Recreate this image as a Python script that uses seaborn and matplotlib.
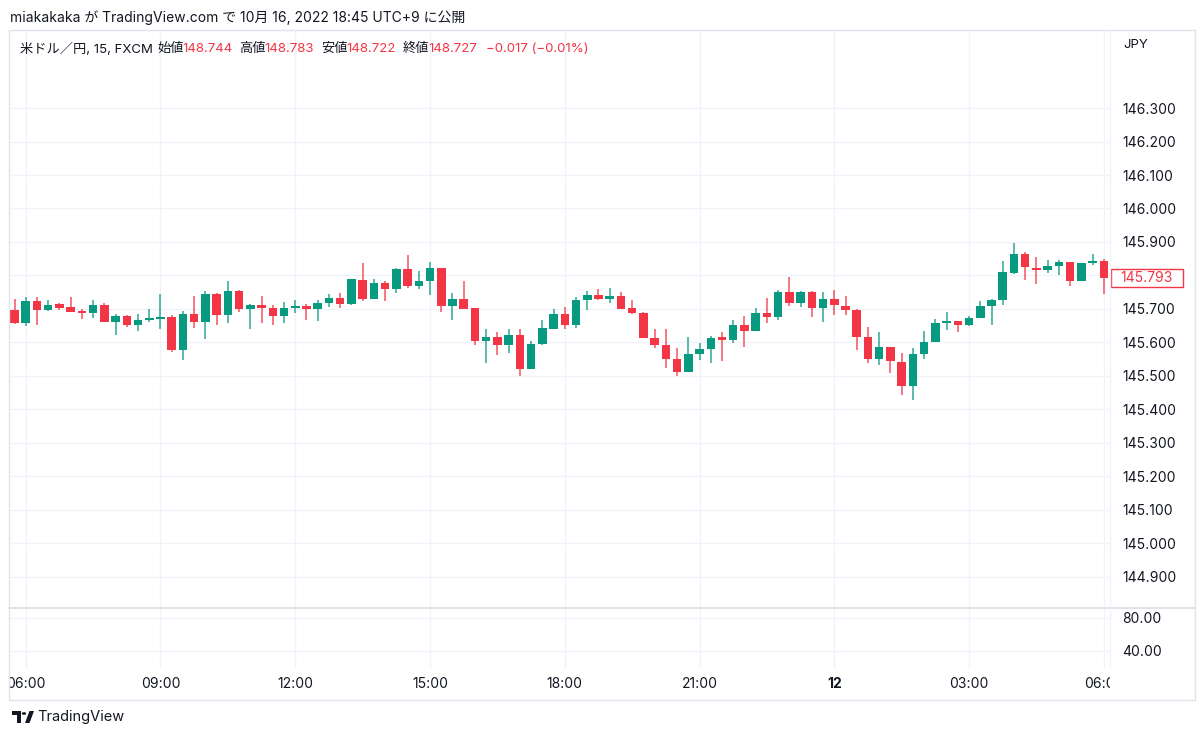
import numpy as np
import pandas as pd
import matplotlib.pyplot as plt
import matplotlib.transforms as mtransforms
from matplotlib.patches import Rectangle, Circle, Polygon
import seaborn as sns

# 15-minute candles, USD/JPY
opens = [145.698, 145.657, 145.725, 145.696, 145.714, 145.706, 145.694, 145.687, 145.713, 145.661,
         145.680, 145.653, 145.666, 145.671, 145.676, 145.578, 145.686, 145.662, 145.746, 145.681,
         145.755, 145.700, 145.713, 145.704, 145.678, 145.703, 145.709, 145.700, 145.717, 145.733,
         145.714, 145.787, 145.730, 145.778, 145.759, 145.819, 145.769, 145.784, 145.821, 145.708,
         145.730, 145.702, 145.605, 145.617, 145.592, 145.622, 145.522, 145.595, 145.641, 145.686,
         145.652, 145.727, 145.742, 145.730, 145.740, 145.702, 145.688, 145.614, 145.593, 145.552,
         145.512, 145.566, 145.580, 145.615, 145.607, 145.652, 145.635, 145.689, 145.675, 145.750,
         145.717, 145.750, 145.704, 145.731, 145.710, 145.698, 145.617, 145.550, 145.585, 145.543,
         145.470, 145.565, 145.600, 145.659, 145.664, 145.653, 145.674, 145.710, 145.726, 145.807,
         145.865, 145.823, 145.817, 145.827, 145.841, 145.782, 145.836, 145.843]
highs = [145.731, 145.736, 145.736, 145.728, 145.719, 145.736, 145.699, 145.726, 145.719, 145.686,
         145.683, 145.684, 145.701, 145.746, 145.683, 145.695, 145.738, 145.755, 145.748, 145.782,
         145.757, 145.716, 145.738, 145.713, 145.722, 145.726, 145.716, 145.726, 145.746, 145.748,
         145.789, 145.837, 145.790, 145.783, 145.821, 145.862, 145.813, 145.839, 145.823, 145.748,
         145.783, 145.704, 145.639, 145.631, 145.639, 145.639, 145.605, 145.668, 145.699, 145.706,
         145.736, 145.755, 145.760, 145.764, 145.750, 145.726, 145.691, 145.639, 145.639, 145.582,
         145.617, 145.597, 145.620, 145.630, 145.668, 145.678, 145.702, 145.733, 145.757, 145.794,
         145.753, 145.753, 145.751, 145.757, 145.738, 145.701, 145.647, 145.631, 145.587, 145.567,
         145.582, 145.634, 145.670, 145.691, 145.664, 145.678, 145.724, 145.731, 145.843, 145.897,
         145.871, 145.854, 145.847, 145.845, 145.841, 145.836, 145.864, 145.849]
lows = [145.656, 145.648, 145.652, 145.693, 145.698, 145.691, 145.669, 145.674, 145.661, 145.623,
        145.646, 145.635, 145.661, 145.640, 145.571, 145.548, 145.642, 145.609, 145.652, 145.658,
        145.691, 145.640, 145.658, 145.651, 145.658, 145.689, 145.666, 145.664, 145.706, 145.702,
        145.712, 145.723, 145.730, 145.725, 145.749, 145.763, 145.760, 145.743, 145.692, 145.668,
        145.701, 145.592, 145.538, 145.562, 145.569, 145.501, 145.522, 145.593, 145.639, 145.640,
        145.644, 145.696, 145.728, 145.718, 145.701, 145.684, 145.614, 145.582, 145.523, 145.501,
        145.512, 145.548, 145.538, 145.546, 145.597, 145.587, 145.633, 145.658, 145.668, 145.710,
        145.706, 145.675, 145.660, 145.681, 145.681, 145.576, 145.538, 145.534, 145.510, 145.442,
        145.428, 145.550, 145.600, 145.637, 145.632, 145.650, 145.674, 145.653, 145.713, 145.803,
        145.785, 145.775, 145.807, 145.802, 145.770, 145.782, 145.830, 145.746]
closes = [145.657, 145.725, 145.696, 145.712, 145.703, 145.691, 145.688, 145.712, 145.661, 145.680,
          145.653, 145.667, 145.672, 145.675, 145.577, 145.686, 145.662, 145.746, 145.681, 145.755,
          145.699, 145.713, 145.703, 145.678, 145.704, 145.709, 145.700, 145.718, 145.733, 145.715,
          145.788, 145.730, 145.778, 145.759, 145.819, 145.769, 145.784, 145.821, 145.708, 145.730,
          145.701, 145.605, 145.617, 145.592, 145.622, 145.522, 145.596, 145.643, 145.686, 145.652,
          145.728, 145.742, 145.729, 145.740, 145.701, 145.687, 145.614, 145.592, 145.552, 145.512,
          145.566, 145.579, 145.614, 145.607, 145.652, 145.635, 145.689, 145.675, 145.750, 145.717,
          145.750, 145.704, 145.731, 145.711, 145.696, 145.617, 145.550, 145.585, 145.544, 145.471,
          145.565, 145.602, 145.659, 145.664, 145.653, 145.674, 145.710, 145.727, 145.809, 145.865,
          145.824, 145.817, 145.827, 145.841, 145.783, 145.836, 145.843, 145.793]
start_time = "2022-10-11 05:45"

price_ticks = [146.3, 146.2, 146.1, 146.0, 145.9, 145.8, 145.7, 145.6, 145.5, 145.4,
               145.3, 145.2, 145.1, 145.0, 144.9]
osc_ticks = [80, 40]

header_text = "miakakaka が TradingView.com で 10月 16, 2022 18:45 UTC+9 に公開"
symbol_text = "米ドル／円, 15, FXCM"
ohlc_names = ["始値", "高値", "安値", "終値"]
ohlc_values = ["148.744", "148.783", "148.722", "148.727"]
change_text = "−0.017 (−0.01%)"
currency = "JPY"

GREEN = "#089981"
RED = "#f23645"
TEXT = "#131722"
GRID = "#f0f3fa"
BORDER = "#e0e3eb"

sns.set_theme(style="white")
plt.rcParams['font.family'] = ['Inter', 'Noto Sans CJK JP', 'DejaVu Sans']

df = pd.DataFrame({
    "time": pd.date_range(start_time, periods=len(opens), freq="15min"),
    "open": opens, "high": highs, "low": lows, "close": closes,
})
df["idx"] = np.arange(len(df))
df["color"] = np.where(df["close"] >= df["open"], GREEN, RED)

# tick positions every 3 hours
grid = df[(df["time"].dt.minute == 0) & (df["time"].dt.hour % 3 == 0)]
grid_labels = [("12" if t.hour == 0 else t.strftime("%H:%M")) for t in grid["time"]]

W, H = 1200, 737


def box(x0, y0, x1, y1):
    return [x0 / W, 1 - y1 / H, (x1 - x0) / W, (y1 - y0) / H]


fig = plt.figure(figsize=(12, 7.37), dpi=100)
fig.patch.set_facecolor("white")

xlim = (-0.49, 97.55)
last = df["close"].iloc[-1]

# price pane
ax = fig.add_axes(box(9, 30, 1110, 607))
ax.vlines(df["idx"], df["low"], df["high"], colors=df["color"], lw=1.1, alpha=0.85, zorder=2)
body = (df["close"] - df["open"]).abs().clip(lower=0.003)
ax.bar(df["idx"], body, bottom=np.minimum(df["open"], df["close"]),
       width=0.76, color=df["color"], linewidth=0, zorder=3)
ax.set_xlim(*xlim)
ax.set_ylim(144.810, 146.533)
ax.set_xticks(grid["idx"])
ax.set_yticks(price_ticks)
# the last-price tag hides the tick label next to it
ax.set_yticklabels(["" if abs(v - last) < 0.03 else f"{v:.3f}" for v in price_ticks])
ax.yaxis.tick_right()
ax.tick_params(axis="y", length=0, pad=9, labelsize=10, labelcolor=TEXT)
ax.tick_params(axis="x", length=0, labelbottom=False)
ax.grid(True, color=GRID, lw=1)
for s in ax.spines.values():
    s.set_visible(False)

# last price label
tr = mtransforms.blended_transform_factory(ax.transAxes, ax.transData)
ax.add_patch(Rectangle((1.001, last - 0.027), 0.065, 0.054, transform=tr,
                       fc="white", ec=RED, lw=1, clip_on=False, zorder=5))
ax.text(1.0335, last, f"{last:.3f}", transform=tr, ha="center", va="center",
        color=RED, fontsize=10, zorder=6, clip_on=False)

# indicator pane (empty)
ax2 = fig.add_axes(box(9, 608, 1110, 668))
ax2.set_xlim(*xlim)
ax2.set_ylim(19.4, 92.1)
ax2.set_xticks(grid["idx"])
ax2.set_yticks(osc_ticks)
ax2.set_yticklabels([f"{v:.2f}" for v in osc_ticks])
ax2.yaxis.tick_right()
ax2.tick_params(axis="y", length=0, pad=9, labelsize=10, labelcolor=TEXT)
ax2.tick_params(axis="x", length=0, labelbottom=False)
ax2.grid(True, color=GRID, lw=1)
for s in ax2.spines.values():
    s.set_visible(False)

# time axis
ax3 = fig.add_axes(box(9, 668, 1110, 700))
ax3.set_xlim(*xlim)
ax3.set_ylim(0, 1)
ax3.axis("off")
for i, lab in zip(grid["idx"], grid_labels):
    ax3.text(i, 0.5, lab, ha="center", va="center", fontsize=10, color=TEXT,
             fontweight="bold" if lab == "12" else "normal", clip_on=True)

# frame lines
fig.add_artist(Rectangle((9 / W, 1 - 700 / H), (1195 - 9) / W, (700 - 30) / H,
                         transform=fig.transFigure, fill=False, ec=BORDER, lw=1))
fig.add_artist(plt.Line2D([9 / W, 1195 / W], [1 - 608 / H] * 2, color="#dadde5", lw=1.2))
fig.add_artist(plt.Line2D([1110 / W] * 2, [1 - 30 / H, 1 - 668 / H], color=GRID, lw=1))

# header texts
fig.text(10 / W, 1 - 18 / H, header_text, fontsize=10, color=TEXT, va="center")
fig.text(20 / W, 1 - 49 / H, symbol_text, fontsize=9.5, color=TEXT, va="center")
name_x = [157, 239, 321, 403]
for nx, name, val in zip(name_x, ohlc_names, ohlc_values):
    fig.text(nx / W, 1 - 49 / H, name, fontsize=9.5, color=TEXT, va="center")
    fig.text((nx + 25) / W, 1 - 49 / H, val, fontsize=9.5, color=RED, va="center")
fig.text(486 / W, 1 - 49 / H, change_text, fontsize=9.5, color=RED, va="center")
fig.text(1123 / W, 1 - 45 / H, currency, fontsize=9.5, color=TEXT, va="center")


# TradingView logo
def fpt(x, y):
    return (x / W, 1 - y / H)


fig.add_artist(Rectangle(fpt(12, 715), 9 / W, 4 / H, transform=fig.transFigure, fc=TEXT, ec="none"))
fig.add_artist(Rectangle(fpt(16.5, 723), 4.5 / W, 12 / H, transform=fig.transFigure, fc=TEXT, ec="none"))
fig.add_artist(Circle(fpt(24, 713.5), 2.2 / W, transform=fig.transFigure, fc=TEXT, ec="none"))
fig.add_artist(Polygon([fpt(25, 723), fpt(29.5, 723), fpt(34, 711), fpt(29.5, 711)],
                       closed=True, transform=fig.transFigure, fc=TEXT, ec="none"))
fig.text(37 / W, 1 - 717 / H, "TradingView", fontsize=10.5, color=TEXT, va="center")

fig.savefig("out.png", dpi=100, facecolor="white")
